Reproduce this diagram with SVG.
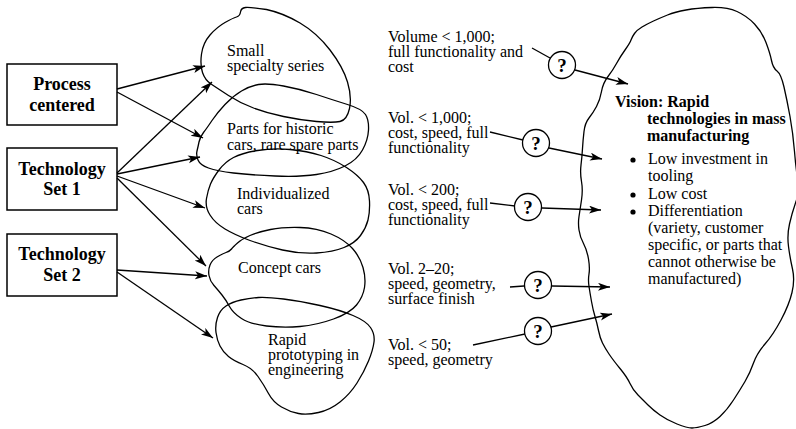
<svg xmlns="http://www.w3.org/2000/svg" width="796" height="429" viewBox="0 0 796 429">
<defs>
<marker id="ah" markerUnits="userSpaceOnUse" markerWidth="13" markerHeight="9" refX="12" refY="4" orient="auto">
<path d="M0,0 L12,4 L0,8 L3,4 Z" fill="#000"/>
</marker>
<style>
.box{fill:#fff;stroke:#000;stroke-width:1.5}
.blob{fill:none;stroke:#000;stroke-width:1.3;stroke-linejoin:round}
.bt{font-family:"Liberation Serif","Times New Roman",serif;font-size:18px;font-weight:bold;text-anchor:middle;fill:#000}
.t{font-family:"Liberation Serif","Times New Roman",serif;font-size:16px;fill:#000}
.tb{font-family:"Liberation Serif","Times New Roman",serif;font-size:16px;font-weight:bold;fill:#000}
.q{font-family:"Liberation Serif","Times New Roman",serif;font-size:19px;font-weight:bold;text-anchor:middle;fill:#000}
.c{fill:#fff;stroke:#000;stroke-width:1.3}
.ln{fill:none;stroke:#000;stroke-width:1.3}
.ar{fill:none;stroke:#000;stroke-width:1.3;marker-end:url(#ah)}
</style>
</defs>
<rect width="796" height="429" fill="#fff"/>

<g id="vision">
<path class="blob" d="M631,40 Q632,37 634.5,33.5 Q637,30 642,27 Q647,24 653.5,21 Q660,18 667.5,15 Q675,12 686,10 Q697,8 712,7.5 Q727,7 737,11.5 Q747,16 754.5,24 Q762,32 766,42.5 Q770,53 771.5,60.5 Q773,68 777,71 Q781,74 784,87 Q787,100 790,116.5 Q793,133 794.5,151.5 Q796,170 798,180 Q800,190 796,201.5 Q792,213 789.5,224 Q787,235 788.5,246.5 Q790,258 792.5,269 Q795,280 792,292.5 Q789,305 781,320 Q773,335 765,344 Q757,353 753.5,363 Q750,373 745,381.5 Q740,390 733.5,400 Q727,410 720,416.5 Q713,423 705,425.5 Q697,428 692,428 Q687,428 677,424 Q667,420 660,415 Q653,410 648,405 Q643,400 638,395 Q633,390 630,383.5 Q627,377 620,368.5 Q613,360 609,354 Q605,348 602.5,343 Q600,338 598.5,330.5 Q597,323 595,316.5 Q593,310 591.5,301.5 Q590,293 589,286.5 Q588,280 589,274 Q590,268 588.5,259 Q587,250 583.5,243.5 Q580,237 579,230 Q578,223 579,216.5 Q580,210 581.5,200 Q583,190 581.5,181.5 Q580,173 581,165 Q582,157 582.5,148.5 Q583,140 584,131.5 Q585,123 589,118 Q593,113 596.5,106.5 Q600,100 601.5,91.5 Q603,83 608,76.5 Q613,70 616.5,63.5 Q620,57 625,50 Q630,43 631,40 Z"/>
<text class="tb" x="615" y="107">Vision: Rapid</text>
<text class="tb" x="647" y="124">technologies in mass</text>
<text class="tb" x="647" y="141">manufacturing</text>
<circle cx="633" cy="160" r="2.6"/>
<text class="t" x="648" y="164">Low investment in</text>
<text class="t" x="648" y="181">tooling</text>
<circle cx="633" cy="195" r="2.6"/>
<text class="t" x="648" y="199">Low cost</text>
<circle cx="633" cy="212" r="2.6"/>
<text class="t" x="648" y="216">Differentiation</text>
<text class="t" x="648" y="233">(variety, customer</text>
<text class="t" x="648" y="250">specific, or parts that</text>
<text class="t" x="648" y="267">cannot otherwise be</text>
<text class="t" x="648" y="284">manufactured)</text>
</g>

<g id="small-specialty">
<path class="blob" d="M202.5,72.5 Q200,65 201.5,54 Q203,43 210,35 Q217,27 225,22.5 Q233,18 236.5,17 Q240,16 240.5,12 Q241,8 245.5,7.5 Q250,7 266.5,9.5 Q283,13 300,23 Q317,33 330,50 Q343,67 347.5,82 Q352,97 349.5,108.5 Q347,120 340,121.5 Q333,123 316.5,121.5 Q300,120 283.5,116.5 Q267,113 253.5,108 Q240,103 228.5,95.5 Q217,88 211,84 Q205,80 202.5,72.5 Z"/>
<text class="t" x="227" y="56">Small</text>
<text class="t" x="227" y="71">specialty series</text>
</g>

<g id="historic-parts">
<path class="blob" d="M199,142 Q200,137 203.5,132.5 Q207,128 212,120.5 Q217,113 225,104.5 Q233,96 241.5,91 Q250,86 258.5,84.5 Q267,83 283.5,86 Q300,89 316.5,94.5 Q333,100 347.5,104.5 Q362,109 365.5,114.5 Q369,120 368.5,130 Q368,140 362.5,150 Q357,160 345,166 Q333,172 316.5,174.5 Q300,177 275,176 Q250,175 233.5,173 Q217,171 208.5,168 Q200,165 198,160 Q196,155 197,151 Q198,147 199,142 Z"/>
<text class="t" x="227" y="134">Parts for historic</text>
<text class="t" x="227" y="150">cars, rare spare parts</text>
</g>

<g id="individualized">
<path class="blob" d="M210,215 Q205,207 206.5,198.5 Q208,190 210.5,184 Q213,178 219,170 Q225,162 233.5,157.5 Q242,153 257.5,150.5 Q273,148 290,149.5 Q307,151 321,155.5 Q335,160 346.5,167.5 Q358,175 363.5,182.5 Q369,190 369.5,201 Q370,212 368,220 Q366,228 360.5,235.5 Q355,243 344,247.5 Q333,252 316.5,253 Q300,254 282.5,250 Q265,246 250,240.5 Q235,235 225,229 Q215,223 210,215 Z"/>
<text class="t" x="237" y="199">Individualized</text>
<text class="t" x="237" y="214">cars</text>
</g>

<g id="concept">
<path class="blob" d="M209,275.5 Q208,270 210,265 Q212,260 217,257 Q222,254 226,252.5 Q230,251 231.5,249 Q233,247 237.5,243 Q242,239 250,235.5 Q258,232 270.5,229.5 Q283,227 300,227.5 Q317,228 331,234 Q345,240 352.5,248.5 Q360,257 363,267.5 Q366,278 364.5,287.5 Q363,297 356.5,305 Q350,313 333.5,319 Q317,325 300,326.5 Q283,328 266.5,326 Q250,324 241.5,318.5 Q233,313 229.5,306.5 Q226,300 222,295 Q218,290 214,285.5 Q210,281 209,275.5 Z"/>
<text class="t" x="238" y="273">Concept cars</text>
</g>

<g id="rapid-prototyping">
<path class="blob" d="M216,332.5 Q215,325 217.5,317.5 Q220,310 226,306 Q232,302 241,300 Q250,298 258.5,297.5 Q267,297 283.5,299 Q300,301 320,305.5 Q340,310 353,315.5 Q366,321 370.5,327.5 Q375,334 374,342 Q373,350 368.5,361 Q364,372 357,383 Q350,394 340,402 Q330,410 318.5,412.5 Q307,415 298.5,413.5 Q290,412 281.5,407 Q273,402 268.5,393.5 Q264,385 258,376.5 Q252,368 243,364.5 Q234,361 228.5,356.5 Q223,352 220,346 Q217,340 216,332.5 Z"/>
<text class="t" x="268" y="345">Rapid</text>
<text class="t" x="268" y="360">prototyping in</text>
<text class="t" x="268" y="375">engineering</text>
</g>

<g id="process-centered">
<rect class="box" x="7" y="64" width="110" height="61"/>
<text class="bt" x="62" y="90">Process</text>
<text class="bt" x="62" y="111">centered</text>
</g>

<g id="technology-set-1">
<rect class="box" x="7" y="148" width="110" height="62"/>
<text class="bt" x="62" y="175">Technology</text>
<text class="bt" x="62" y="195">Set 1</text>
</g>

<g id="technology-set-2">
<rect class="box" x="7" y="234" width="110" height="62"/>
<text class="bt" x="62" y="260">Technology</text>
<text class="bt" x="62" y="281">Set 2</text>
</g>

<g id="labels">
<text class="t" x="388" y="42">Volume &lt; 1,000;</text>
<text class="t" x="388" y="57">full functionality and</text>
<text class="t" x="388" y="72">cost</text>
<text class="t" x="388" y="123">Vol. &lt; 1,000;</text>
<text class="t" x="388" y="138">cost, speed, full</text>
<text class="t" x="388" y="153">functionality</text>
<text class="t" x="388" y="195">Vol. &lt; 200;</text>
<text class="t" x="388" y="210">cost, speed, full</text>
<text class="t" x="388" y="225">functionality</text>
<text class="t" x="388" y="274">Vol. 2–20;</text>
<text class="t" x="388" y="289">speed, geometry,</text>
<text class="t" x="388" y="304">surface finish</text>
<text class="t" x="388" y="350">Vol. &lt; 50;</text>
<text class="t" x="388" y="365">speed, geometry</text>
</g>

<g id="connectors">
<line class="ar" x1="117" y1="89" x2="205" y2="66"/>
<line class="ar" x1="117" y1="92" x2="203" y2="138"/>
<line class="ar" x1="117" y1="173" x2="212" y2="82"/>
<line class="ar" x1="117" y1="174" x2="200" y2="157"/>
<line class="ar" x1="117" y1="176" x2="205" y2="208"/>
<line class="ar" x1="117" y1="178" x2="206" y2="266"/>
<line class="ar" x1="117" y1="270" x2="207" y2="276"/>
<line class="ar" x1="117" y1="272" x2="213" y2="338"/>

<line class="ln" x1="532" y1="48" x2="550" y2="58"/>
<line class="ar" x1="575" y1="70" x2="628" y2="84"/>
<line class="ln" x1="490" y1="132" x2="523" y2="140"/>
<line class="ar" x1="549" y1="148" x2="602" y2="159"/>
<line class="ln" x1="490" y1="203" x2="515" y2="206"/>
<line class="ar" x1="542" y1="208" x2="601" y2="210"/>
<line class="ln" x1="510" y1="287" x2="524" y2="286"/>
<line class="ar" x1="552" y1="286" x2="610" y2="287"/>
<line class="ln" x1="473" y1="345" x2="525" y2="334"/>
<line class="ar" x1="551" y1="327" x2="612" y2="314"/>

<circle class="c" cx="562" cy="65" r="13.5"/>
<circle class="c" cx="536" cy="143" r="13.5"/>
<circle class="c" cx="528" cy="207" r="13.5"/>
<circle class="c" cx="538" cy="285" r="13.5"/>
<circle class="c" cx="538" cy="331" r="13.5"/>
<text class="q" x="562" y="72">?</text>
<text class="q" x="536" y="150">?</text>
<text class="q" x="528" y="214">?</text>
<text class="q" x="538" y="292">?</text>
<text class="q" x="538" y="338">?</text>
</g>
</svg>
